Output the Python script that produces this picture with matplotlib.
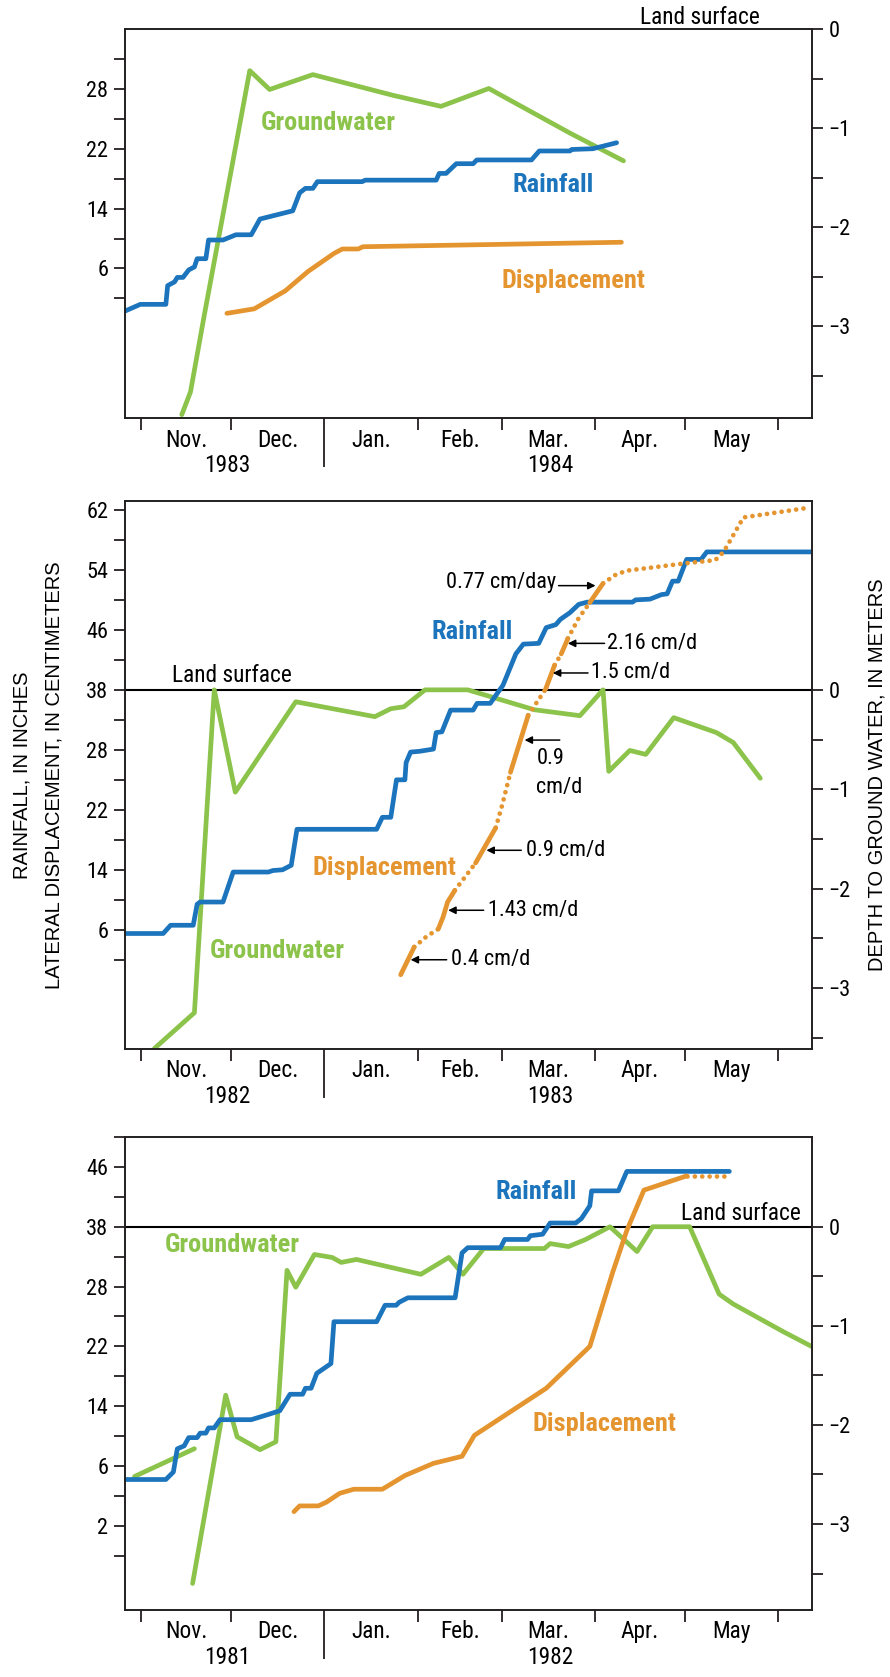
import matplotlib
matplotlib.use('Agg')
import matplotlib.pyplot as plt
from matplotlib import font_manager

# pick a condensed face for the chart text (falls back to DejaVu Sans Condensed)
names = {f.name for f in font_manager.fontManager.ttflist}
NARROW = 'DejaVu Sans'
for cand in ['Roboto Condensed', 'Archivo Narrow', 'Liberation Sans Narrow']:
    if cand in names:
        NARROW = cand
        break
plt.rcParams['font.family'] = [NARROW, 'DejaVu Sans']
plt.rcParams['font.stretch'] = 'condensed'

BLUE = '#1c75bc'
GREEN = '#8cc34b'
ORANGE = '#e5952f'
DARK = '#231f20'

# x axis = days since Nov. 1
month_start = [0, 30, 61, 92, 120, 151, 181, 212]
month_names = ['Nov.', 'Dec.', 'Jan.', 'Feb.', 'Mar.', 'Apr.', 'May']

# left axis: evenly spaced ticks with the labels printed on the original
LAND = 38.0      # left-axis position of land surface (0 m)
PER_M = 13.25    # left-axis units per metre of depth

# ---------------- 1983-84 ----------------
years1 = ['1983', '1984']
left_ticks1 = [6, 14, 22, 30]
left_labels1 = ['6', '14', '22', '28']
rain1_day = [-5.3, -0.2, 8.3, 8.9, 11.2, 12.1, 14.0, 15.9, 17.8, 18.7, 21.6, 22.5, 27.3, 31.6,
             36.7, 39.6, 50.5, 52.8, 54.7, 57.2, 58.7, 73.6, 74.6, 98.2, 99.2, 101.5, 104.9,
             110.5, 111.7, 129.9, 132.5, 142.7, 143.3, 150.3, 158.2]
rain1_val = [0.3, 1.2, 1.2, 3.7, 4.2, 4.8, 4.8, 5.8, 6.2, 7.3, 7.3, 9.8, 9.8, 10.5,
             10.5, 12.6, 13.7, 16.1, 16.7, 16.7, 17.6, 17.6, 17.8, 17.8, 18.7, 18.7, 20.0,
             20.0, 20.5, 20.5, 21.7, 21.7, 21.9, 22.0, 22.8]
gw1_day = [13.6, 16.5, 21.0, 36.2, 42.8, 57.2, 84.0, 99.8, 115.7, 142.7, 160.5]
gw1_m = [-3.89, -3.66, -2.90, -0.42, -0.61, -0.46, -0.67, -0.78, -0.60, -1.05, -1.33]
disp1_day = [28.6, 37.7, 48.0, 55.6, 64.2, 67.0, 72.3, 73.8, 159.8]
disp1_val = [0.0, 0.6, 3.0, 5.6, 8.0, 8.6, 8.6, 8.9, 9.5]

# ---------------- 1982-83 ----------------
years2 = ['1982', '1983']
left_ticks2 = [6, 14, 22, 30, 38, 46, 54, 62]
left_labels2 = ['6', '14', '22', '28', '38', '46', '54', '62']
rain2_day = [-5.3, 7.4, 9.9, 17.4, 18.7, 19.7, 27.3, 30.7, 42.4, 43.9, 47.1, 50.0, 51.9, 78.4,
             80.3, 83.1, 85.0, 87.8, 88.2, 89.7, 92.6, 97.3, 98.2, 100.1, 103.0, 110.5, 111.8,
             116.2, 118.1, 120.4, 124.7, 127.2, 132.3, 134.8, 138.0, 139.5, 142.7, 145.6,
             148.4, 163.5, 164.5, 169.3, 173.1, 175.0, 176.8, 178.7, 181.5, 186.3, 188.2, 223.2]
rain2_val = [5.5, 5.5, 6.6, 6.6, 9.4, 9.7, 9.7, 13.7, 13.7, 13.9, 14.0, 14.6, 19.4, 19.4,
             21.0, 21.0, 26.0, 26.0, 28.3, 29.7, 29.8, 30.1, 32.3, 32.4, 35.3, 35.3, 36.2,
             36.2, 37.3, 38.6, 42.8, 44.1, 44.2, 46.3, 46.7, 47.4, 48.3, 49.4,
             49.7, 49.7, 50.0, 50.1, 50.7, 50.8, 52.5, 52.5, 55.4, 55.4, 56.4, 56.4]
gw2_day = [4.5, 17.8, 24.4, 31.4, 51.5, 77.8, 83.1, 87.5, 94.5, 108.7, 130.8, 146.0, 153.7,
           155.6, 162.6, 167.9, 177.2, 191.4, 197.0, 206.0]
gw2_m = [-3.61, -3.25, 0.0, -1.03, -0.12, -0.27, -0.19, -0.17, 0.0, 0.0, -0.20, -0.26, 0.0,
         -0.82, -0.61, -0.65, -0.28, -0.43, -0.53, -0.89]
disp2_day = [86.4, 90.9, 95.0, 98.9, 100.5, 102.0, 104.4, 111.3, 118.0, 120.2, 122.9, 128.8,
             134.6, 137.6, 139.8, 142.0, 145.5, 149.3, 153.7, 157.9, 161.6, 181.5, 191.0,
             193.8, 200.4, 222.2]
disp2_val = [0.0, 3.7, 5.1, 6.1, 7.7, 9.7, 11.25, 14.9, 19.6, 22.7, 27.0, 34.6,
             38.1, 41.3, 42.8, 44.85, 47.5, 49.65, 52.2, 53.35, 53.9, 54.9, 55.3,
             56.4, 61.0, 62.3]
# True = measured (solid) segment, False = inferred (dotted), one per gap between points
disp2_measured = [True, False, False, True, True, True, False, True, False, False, True,
                  False, True, False, True, False, False, True, False, False, False, False,
                  False, False, False]

# ---------------- 1981-82 ----------------
years3 = ['1981', '1982']
left_ticks3 = [-2, 6, 14, 22, 30, 38, 46]
left_labels3 = ['2', '6', '14', '22', '28', '38', '46']
rain3_day = [-5.3, 8.3, 10.8, 12.1, 14.4, 15.9, 18.7, 19.7, 21.6, 22.5, 24.4, 26.3, 36.7, 42.4,
             46.2, 49.6, 53.8, 54.7, 56.6, 58.5, 63.2, 64.2, 78.4, 81.2, 84.9, 85.9, 88.8,
             104.5, 106.8, 108.7, 119.6, 121.0, 128.6, 129.5, 133.6, 136.1, 144.6, 146.5,
             149.3, 149.9, 158.8, 161.6, 195.7]
rain3_val = [4.2, 4.2, 5.2, 8.3, 8.7, 9.8, 9.8, 10.4, 10.4, 11.1, 11.1, 12.2, 12.2, 12.9,
             13.4, 15.6, 15.6, 16.4, 16.4, 18.4, 19.7, 25.3, 25.3, 27.5, 27.5, 27.9, 28.5,
             28.5, 34.5, 35.2, 35.2, 36.3, 36.3, 36.8, 37.0, 38.5, 38.5, 39.1,
             40.8, 42.8, 42.8, 45.4, 45.4]
gw3a_day = [-2.1, 17.8]
gw3a_m = [-2.52, -2.24]
gw3b_day = [17.2, 28.2, 32.0, 39.6, 44.9, 48.6, 51.5, 57.7, 63.6, 66.6, 71.7, 93.1, 102.4,
            107.1, 114.0, 134.2, 136.1, 142.2, 147.8, 156.0, 165.0, 170.2, 182.5, 192.3,
            197.0, 213.7, 223.2]
gw3b_m = [-3.60, -1.70, -2.12, -2.25, -2.17, -0.44, -0.61, -0.28, -0.31, -0.36, -0.33, -0.48,
          -0.31, -0.48, -0.22, -0.22, -0.17, -0.20, -0.13, 0.0, -0.25, 0.0, 0.0, -0.68,
          -0.78, -1.06, -1.21]
disp3_day = [50.9, 52.8, 59.0, 61.7, 66.1, 70.8, 80.3, 87.8, 97.3, 106.8, 110.9, 134.8,
             149.3, 156.9, 161.6, 167.3, 181.5]
disp3_val = [-0.1, 0.67, 0.67, 1.17, 2.35, 2.9, 2.9, 4.73, 6.36, 7.3, 10.1, 16.4,
             22.0, 31.9, 37.5, 42.9, 44.8]
disp3_tail_day = [181.5, 196.3]
disp3_tail_val = [44.8, 44.8]

LW = 3.4
TICK = 16
MONTH = 16.8
solid_kw = dict(lw=LW, solid_capstyle='round', solid_joinstyle='round')
dot_kw = dict(lw=LW, linestyle=(0, (0.01, 1.55)), dash_capstyle='round')


def setup(ax, ylim, ticks, labels, years):
    for s in ax.spines.values():
        s.set_color(DARK)
        s.set_linewidth(1.4)
    ax.set_yticks(ticks)
    ax.set_yticklabels(labels)
    ax.set_yticks([t + 4 for t in ticks[:-1]] + [ticks[0] - 4, ticks[-1] + 4], minor=True)
    ax.set_xticks(month_start)
    ax.set_xticklabels([])
    ax.set_xlim(-5.3, 223.2)
    ax.set_ylim(*ylim)
    ax.tick_params(axis='y', which='both', direction='out', length=8, width=1.3,
                   color=DARK, labelsize=TICK, pad=4)
    ax.tick_params(axis='x', which='major', direction='out', length=8.4, width=1.3,
                   color=DARK)
    ax.xaxis.get_major_ticks()[2].tick1line.set_markersize(35)
    for i, name in enumerate(month_names):
        mid = (month_start[i] + month_start[i + 1]) / 2
        ax.annotate(name, xy=(mid, 0), xycoords=('data', 'axes fraction'),
                    xytext=(0, -15.8), textcoords='offset points',
                    ha='center', va='center', fontsize=MONTH)
    for x, yr in zip([28.8, 136.0], years):
        ax.annotate(yr, xy=(x, 0), xycoords=('data', 'axes fraction'),
                    xytext=(0, -34), textcoords='offset points',
                    ha='center', va='center', fontsize=MONTH)
    tw = ax.twinx()
    for s in tw.spines.values():
        s.set_visible(False)
    tw.set_yticks([0, -1, -2, -3])
    tw.set_yticklabels(['0', '\u22121', '\u22122', '\u22123'])
    tw.set_yticks([-0.5, -1.5, -2.5, -3.5], minor=True)
    tw.set_ylim((ylim[0] - LAND) / PER_M, (ylim[1] - LAND) / PER_M)
    tw.tick_params(axis='y', which='both', direction='out', length=8, width=1.3,
                   color=DARK, labelsize=TICK, pad=4)
    return tw


def plot_segments(ax, days, vals, measured, color):
    start = 0
    for i in range(1, len(measured) + 1):
        if i == len(measured) or measured[i] != measured[start]:
            kw = solid_kw if measured[start] else dot_kw
            ax.plot(days[start:i + 1], vals[start:i + 1], color=color, **kw)
            start = i


fig = plt.figure(figsize=(8.9, 16.77), dpi=100)
lab = dict(fontsize=19, fontweight='bold', ha='center', va='center')
note = dict(fontsize=16, va='center')
arrow = dict(arrowstyle='-|>', color='black', lw=1.1, mutation_scale=11, shrinkA=0, shrinkB=0)

# ---- panel 1 ----
ax1 = fig.add_axes([0.1404, 0.7507, 0.772, 0.232])
tw1 = setup(ax1, (-14, 38), left_ticks1, left_labels1, years1)
tw1.plot(gw1_day, gw1_m, color=GREEN, **solid_kw)
ax1.plot(rain1_day, rain1_val, color=BLUE, **solid_kw)
ax1.plot(disp1_day, disp1_val, color=ORANGE, **solid_kw)
ax1.text(62.3, 25.4, 'Groundwater', color=GREEN, **lab)
ax1.text(137.2, 17.2, 'Rainfall', color=BLUE, **lab)
ax1.text(143.9, 4.3, 'Displacement', color=ORANGE, **lab)
ax1.text(205.8, 39.6, 'Land surface', fontsize=MONTH, ha='right', va='center')

# ---- panel 2 ----
ax2 = fig.add_axes([0.1404, 0.3745, 0.772, 0.3268])
tw2 = setup(ax2, (-9.9, 63.2), left_ticks2, left_labels2, years2)
tw2.axhline(0, color='black', lw=1.5)
tw2.plot(gw2_day, gw2_m, color=GREEN, **solid_kw)
ax2.plot(rain2_day, rain2_val, color=BLUE, **solid_kw)
plot_segments(ax2, disp2_day, disp2_val, disp2_measured, ORANGE)
ax2.text(110.0, 45.7, 'Rainfall', color=BLUE, **lab)
ax2.text(81.0, 14.3, 'Displacement', color=ORANGE, **lab)
ax2.text(45.4, 3.2, 'Groundwater', color=GREEN, **lab)
ax2.text(10.2, 39.9, 'Land surface', fontsize=MONTH, ha='left', va='center')
ax2.annotate('', xy=(151.2, 51.9), xytext=(138.9, 51.9), arrowprops=arrow)
ax2.text(138.0, 52.3, '0.77 cm/day', ha='right', **note)
for tail, head, y, tx, txt in [(154.2, 142.0, 44.2, 155.1, '2.16 cm/d'),
                               (148.7, 137.0, 40.25, 149.8, '1.5 cm/d'),
                               (126.5, 114.9, 16.6, 128.0, '0.9 cm/d'),
                               (114.0, 102.2, 8.6, 115.5, '1.43 cm/d'),
                               (101.7, 89.7, 2.0, 103.0, '0.4 cm/d')]:
    ax2.annotate('', xy=(head, y), xytext=(tail, y), arrowprops=arrow)
    ax2.text(tx, y, txt, ha='left', **note)
ax2.annotate('', xy=(127.6, 31.3), xytext=(139.3, 31.3), arrowprops=arrow)
ax2.text(131.5, 28.8, '0.9', ha='left', **note)
ax2.text(131.5, 25.0, 'cm/d', ha='left', **note)

# ---- panel 3 ----
ax3 = fig.add_axes([0.1404, 0.040, 0.772, 0.282])
tw3 = setup(ax3, (-13.24, 50), left_ticks3, left_labels3, years3)
tw3.axhline(0, color='black', lw=1.5)
tw3.plot(gw3a_day, gw3a_m, color=GREEN, **solid_kw)
tw3.plot(gw3b_day, gw3b_m, color=GREEN, **solid_kw)
ax3.plot(rain3_day, rain3_val, color=BLUE, **solid_kw)
ax3.plot(disp3_day, disp3_val, color=ORANGE, **solid_kw)
ax3.plot(disp3_tail_day, disp3_tail_val, color=ORANGE, **dot_kw)
ax3.text(131.4, 42.6, 'Rainfall', color=BLUE, **lab)
ax3.text(30.3, 35.5, 'Groundwater', color=GREEN, **lab)
ax3.text(154.2, 11.6, 'Displacement', color=ORANGE, **lab)
ax3.text(219.4, 39.8, 'Land surface', fontsize=MONTH, ha='right', va='center')

for a, t in [(ax1, tw1), (ax2, tw2), (ax3, tw3)]:
    a.set_zorder(t.get_zorder() + 1)
    a.patch.set_visible(False)

side = dict(rotation=90, ha='center', va='center', fontsize=14.5, fontstretch='normal',
            family=['Liberation Sans', 'DejaVu Sans'])
fig.text(0.0247, 0.5379, 'RAINFALL, IN INCHES', **side)
fig.text(0.0607, 0.5379, 'LATERAL DISPLACEMENT, IN CENTIMETERS', **side)
fig.text(0.985, 0.5379, 'DEPTH TO GROUND WATER, IN METERS', **side)

fig.savefig('out.png', dpi=100)
